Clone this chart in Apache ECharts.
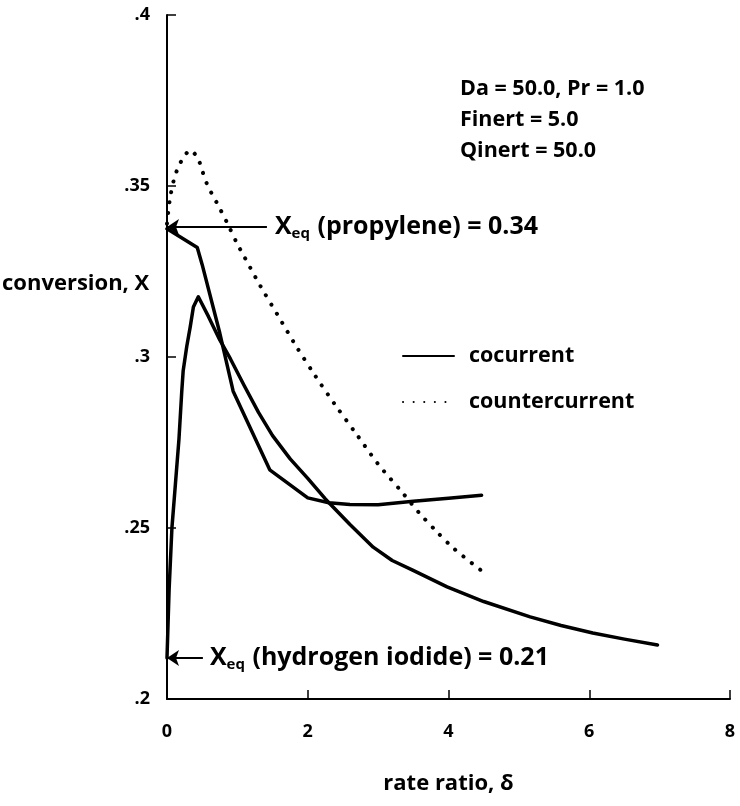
<!DOCTYPE html>
<html><head><meta charset="utf-8">
<script src="https://cdn.jsdelivr.net/npm/echarts@6/dist/echarts.min.js"></script>
<style>html,body{margin:0;padding:0;background:#fff}#c{width:740px;height:806px}</style>
</head><body><div id="c"></div>
<script>
// ---- data ----
const xTickLabels = ['0', '2', '4', '6', '8'];
const yTickLabels = ['.2', '.25', '.3', '.35', '.4'];

const cocurrentAX = [0, 0.43, 0.5, 0.75, 0.94, 1.46, 2.0, 2.3, 2.6, 3.0, 3.5, 4.0, 4.47];
const cocurrentAY = [0.3375, 0.332, 0.327, 0.307, 0.290, 0.267, 0.2588, 0.2574, 0.2569, 0.2568, 0.2578, 0.2587, 0.2596];

const cocurrentBX = [0, 0.03, 0.07, 0.12, 0.17, 0.21, 0.23, 0.28, 0.33, 0.375, 0.445, 0.59, 0.75, 0.9, 1.1, 1.3, 1.5, 1.75, 2.0, 2.25, 2.6, 2.93, 3.2, 3.49, 3.98, 4.5, 5.16, 5.6, 6.05, 6.5, 6.97];
const cocurrentBY = [0.212, 0.232, 0.250, 0.263, 0.276, 0.290, 0.296, 0.303, 0.3088, 0.3146, 0.3176, 0.3118, 0.305, 0.2995, 0.2915, 0.2838, 0.277, 0.2702, 0.2645, 0.2585, 0.251, 0.2444, 0.2405, 0.2377, 0.2328, 0.2285, 0.224, 0.2215, 0.2193, 0.2175, 0.2158];

const counterX = [0, 0.04, 0.1, 0.16, 0.24, 0.33, 0.44, 0.5, 0.56, 0.63, 0.71, 0.86, 1.0, 1.08, 1.32, 1.58, 1.84, 2.10, 2.39, 2.69, 3.0, 3.36, 3.58, 3.83, 4.07, 4.47];
const counterY = [0.339, 0.346, 0.352, 0.3555, 0.3585, 0.3605, 0.358, 0.3545, 0.351, 0.348, 0.345, 0.339, 0.333, 0.330, 0.321, 0.312, 0.303, 0.2947, 0.286, 0.2775, 0.2687, 0.260, 0.2545, 0.249, 0.2441, 0.2375];

const xEqPropylene = 0.338;
const xEqHydrogenIodide = 0.212;
const seriesNames = ['cocurrent', 'countercurrent'];
const paramLines = ['Da = 50.0, Pr = 1.0', 'Finert = 5.0', 'Qinert = 50.0'];
const xAxisName = 'rate ratio, δ';
const yAxisName = 'conversion, X';

// ---- chart ----
const FONT = 'Open Sans';
const W = 'bold';
const zip = (xs, ys) => xs.map((x, i) => [x, ys[i]]);
const richEq = (rest) => ({
  formatter: '{x|X}{s|eq}{t| ' + rest + '}',
  rich: {
    x: { fontSize: 25, fontWeight: W, fontFamily: FONT, color: '#000' },
    s: { fontSize: 15, fontWeight: W, fontFamily: FONT, color: '#000', padding: [14, 1, 0, 0] },
    t: { fontSize: 25, fontWeight: W, fontFamily: FONT, color: '#000' }
  }
});

const chart = echarts.init(document.getElementById('c'), null, { renderer: 'canvas' });
chart.setOption({
  animation: false,
  backgroundColor: '#fff',
  title: {
    text: paramLines.join('\n'),
    left: 455, top: 68,
    textStyle: { fontSize: 21.5, fontWeight: W, fontFamily: FONT, color: '#000', lineHeight: 31 }
  },
  legend: {
    orient: 'vertical', left: 397, top: 340,
    itemWidth: 51, itemHeight: 14, itemGap: 24,
    data: seriesNames,
    itemStyle: { opacity: 0 },
    textStyle: { fontSize: 21.5, fontWeight: W, fontFamily: FONT, color: '#000', padding: [0, 0, 0, 10] }
  },
  graphic: [{
    type: 'text', left: 2, top: 273,
    style: { text: yAxisName, fontSize: 22, fontWeight: W, fontFamily: FONT, fill: '#000' }
  }],
  grid: { left: 167, right: 10, top: 15, bottom: 107, outerBoundsMode: 'none', containLabel: false },
  xAxis: {
    type: 'value', min: 0, max: 8, interval: 2,
    name: xAxisName, nameLocation: 'middle', nameGap: 74,
    nameTextStyle: { fontSize: 22, fontWeight: W, fontFamily: FONT, color: '#000' },
    axisLine: { lineStyle: { color: '#000', width: 2 } },
    axisTick: { inside: true, length: 9, lineStyle: { color: '#000', width: 1.5 } },
    splitLine: { show: false },
    axisLabel: { margin: 24, fontSize: 18, fontWeight: W, fontFamily: FONT, color: '#000',
      formatter: v => xTickLabels[Math.round(v / 2)] }
  },
  yAxis: {
    type: 'value', min: 0.2, max: 0.4, interval: 0.05,
    axisLine: { lineStyle: { color: '#000', width: 2 } },
    axisTick: { inside: true, length: 9, lineStyle: { color: '#000', width: 1.5 } },
    splitLine: { show: false },
    axisLabel: { margin: 17, fontSize: 18, fontWeight: W, fontFamily: FONT, color: '#000',
      formatter: v => yTickLabels[Math.round((v - 0.2) / 0.05)] }
  },
  series: [
    {
      name: seriesNames[0], type: 'line', symbol: 'none', data: zip(cocurrentAX, cocurrentAY),
      lineStyle: { color: '#000', width: 3.5, join: 'round', cap: 'round' }, itemStyle: { color: '#000' },
      markLine: {
        silent: true, symbol: ['none', 'arrow'], symbolSize: 12,
        lineStyle: { color: '#000', width: 2, type: 'solid' },
        label: Object.assign({ show: true, position: 'start', distance: 8 }, richEq('(propylene) = 0.34')),
        data: [[{ coord: [1.42, xEqPropylene] }, { coord: [0, xEqPropylene] }]]
      }
    },
    {
      name: seriesNames[0], type: 'line', symbol: 'none', data: zip(cocurrentBX, cocurrentBY),
      lineStyle: { color: '#000', width: 3.5, join: 'round', cap: 'round' }, itemStyle: { color: '#000' },
      markLine: {
        silent: true, symbol: ['none', 'arrow'], symbolSize: 12,
        lineStyle: { color: '#000', width: 2, type: 'solid' },
        label: Object.assign({ show: true, position: 'start', distance: 7 }, richEq('(hydrogen iodide) = 0.21')),
        data: [[{ coord: [0.51, xEqHydrogenIodide] }, { coord: [0, xEqHydrogenIodide] }]]
      }
    },
    {
      name: seriesNames[1], type: 'line', symbol: 'none', smooth: 0.3, data: zip(counterX, counterY),
      lineStyle: { color: '#000', width: 4, type: [0.1, 10.5], cap: 'round' }, itemStyle: { color: '#000' }
    }
  ]
});
</script>
</body></html>
